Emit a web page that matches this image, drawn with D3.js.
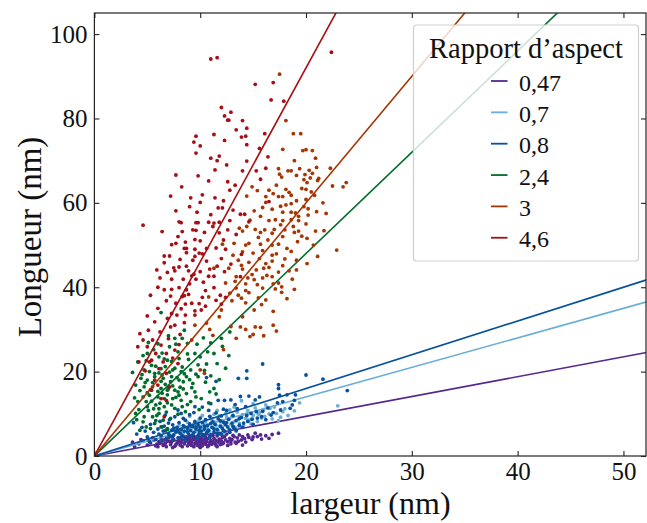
<!DOCTYPE html>
<html><head><meta charset="utf-8">
<script src="https://cdn.jsdelivr.net/npm/d3@7"></script>
<style>
html,body{margin:0;padding:0;background:#fff;}
svg text{font-family:"Liberation Serif","DejaVu Serif",serif;fill:#111;}
</style></head>
<body><svg id="c" width="647" height="523"></svg>
<script>
const categories = ["0,47","0,7","0,8","2,4","3","4,6"];
const slopes = [0.47,0.7,0.8,2.4,3,4.6];
const colors = ["#54278f","#6baed6","#08519c","#006d2c","#a63603","#a50f15"];
const xTicks = [0,10,20,30,40,50];
const yTicks = [0,20,40,60,80,100];
const xLabel = "largeur (nm)";
const yLabel = "Longueur (nm)";
const legendTitle = "Rapport d\u2019aspect";

const pts047 = [[3.6,3.3],[4.2,2.9],[4.6,3.6],[5.0,2.6],[5.3,3.1],[5.6,3.8],[5.9,2.8],[6.1,3.4],[6.3,4.1],[6.5,2.5],[6.7,3.0],[6.9,3.6],[7.0,4.4],[7.2,2.7],[7.3,3.3],[7.5,3.9],[7.6,2.3],[7.8,3.0],[7.9,3.6],[8.0,4.3],[8.1,2.6],[8.2,3.2],[8.3,3.8],[8.4,4.7],[8.5,2.9],[8.6,3.5],[8.7,4.1],[8.8,2.4],[8.9,3.1],[9.0,3.7],[9.0,4.5],[9.1,2.7],[9.2,3.3],[9.3,3.9],[9.4,2.2],[9.5,3.0],[9.5,4.2],[9.6,3.6],[9.7,2.6],[9.8,3.3],[9.8,4.8],[9.9,3.9],[10.0,2.9],[10.1,3.5],[10.1,4.3],[10.2,2.4],[10.3,3.1],[10.4,3.8],[10.4,5.0],[10.5,2.8],[10.6,3.4],[10.7,4.1],[10.8,2.5],[10.9,3.2],[10.9,4.6],[11.0,3.7],[11.1,2.8],[11.2,3.4],[11.3,4.2],[11.4,3.0],[11.5,3.7],[11.6,4.8],[11.7,3.3],[11.8,4.0],[11.9,2.7],[12.0,3.6],[12.1,4.4],[12.2,3.1],[12.4,3.8],[12.5,5.2],[12.6,3.4],[12.8,4.2],[12.9,2.9],[13.0,3.9],[13.2,4.6],[13.3,3.3],[13.4,3.0],[13.5,4.3],[13.7,5.0],[13.9,3.8],[14.0,4.6],[14.0,2.6],[14.2,4.1],[14.5,5.0],[14.6,4.4],[14.9,3.9],[15.2,5.4],[15.4,4.6],[15.7,5.0],[16.2,4.8],[16.5,4.2],[17.4,5.4],[3.8,2.2],[4.4,3.9],[5.5,4.3],[6.0,2.2],[5.1,3.9],[5.8,2.4],[6.2,3.0],[6.6,3.8],[6.8,2.2],[7.1,3.5],[7.4,4.6],[7.7,2.7],[8.0,3.4],[8.3,2.2],[8.6,4.4],[8.9,3.8],[9.2,2.5],[9.4,4.7],[9.7,3.2],[9.9,2.3],[10.2,3.9],[10.5,4.4],[10.7,2.2],[11.0,3.0],[11.2,4.9],[11.5,2.5],[11.8,3.5],[12.1,2.9],[12.3,4.6],[12.6,2.5],[12.9,3.6],[13.1,4.9],[13.6,3.5],[14.3,3.3],[15.0,4.5],[15.8,4.0],[16.8,5.1],[7.4,2.0],[10.0,2.0],[11.6,2.2]];

const pts07 = [[7.5,6.0],[8.0,7.2],[8.4,5.4],[8.8,8.0],[9.1,6.5],[9.4,7.6],[9.6,5.8],[9.9,8.6],[10.1,7.0],[10.3,6.1],[10.5,8.2],[10.7,7.4],[10.9,5.6],[11.0,9.2],[11.2,6.8],[11.4,8.0],[11.5,7.2],[11.7,6.0],[11.8,9.5],[12.0,8.4],[12.1,6.9],[12.3,7.7],[12.4,10.1],[12.6,8.8],[12.7,6.4],[12.9,7.5],[13.0,9.4],[13.2,8.1],[13.3,6.8],[13.5,10.4],[13.6,8.6],[13.7,7.7],[13.9,13.1],[14.0,9.8],[14.1,7.2],[14.3,8.9],[14.5,10.8],[14.6,8.5],[14.8,7.6],[15.0,9.6],[15.2,11.4],[15.4,8.2],[15.6,10.2],[15.8,9.0],[16.0,11.0],[16.2,12.1],[16.5,10.0],[16.8,8.8],[17.0,11.6],[17.4,8.4],[17.8,10.5],[18.3,9.6],[18.9,10.7],[19.4,12.6],[23.0,11.9],[11.6,10.8],[12.2,5.4],[13.4,5.8],[10.2,9.6],[9.0,9.4],[13.7,7.0],[14.6,8.5],[9.8,7.9],[10.6,6.6],[11.1,8.6],[11.9,7.3],[12.5,9.3],[13.1,7.1],[13.8,9.2],[14.4,10.0],[14.9,8.9],[15.5,9.9],[16.1,9.4],[16.6,11.3],[17.2,10.1],[18.0,11.2],[12.8,10.9],[11.3,9.9],[10.4,7.6],[15.0,12.4],[13.2,11.6],[17.6,9.2]];

const pts08 = [[4.0,5.2],[4.5,6.8],[5.0,4.5],[5.3,7.5],[5.6,5.6],[5.8,3.9],[6.0,6.4],[6.2,8.2],[6.3,4.8],[6.5,5.9],[6.6,7.1],[6.8,4.2],[6.9,6.5],[7.0,5.3],[7.1,8.6],[7.2,4.6],[7.3,6.1],[7.4,7.4],[7.5,5.0],[7.6,9.3],[7.7,5.7],[7.8,6.8],[7.9,4.3],[8.0,7.9],[8.1,5.4],[8.2,6.3],[8.3,4.8],[8.4,7.2],[8.5,5.9],[8.6,8.5],[8.7,4.5],[8.8,6.6],[8.9,5.2],[9.0,7.6],[9.0,9.8],[9.1,6.0],[9.2,4.9],[9.3,7.0],[9.4,5.6],[9.5,8.2],[9.6,6.4],[9.7,4.6],[9.8,7.4],[9.9,5.3],[10.0,6.8],[10.0,9.0],[10.1,5.9],[10.2,7.9],[10.3,4.8],[10.4,6.4],[10.5,8.6],[10.6,5.5],[10.7,7.2],[10.8,6.1],[10.9,9.4],[11.0,5.0],[11.1,6.8],[11.2,8.1],[11.3,5.7],[11.4,7.5],[11.5,10.2],[11.6,6.3],[11.7,8.8],[11.8,5.3],[11.9,7.0],[12.0,9.5],[12.1,6.5],[12.2,8.0],[12.3,5.9],[12.4,7.4],[12.5,10.8],[12.6,6.9],[12.7,8.7],[12.8,6.2],[12.9,13.3],[13.0,7.8],[13.1,9.6],[13.2,6.6],[13.4,8.4],[13.5,11.2],[13.6,18.4],[13.7,7.3],[13.8,14.1],[13.9,9.1],[14.0,6.8],[14.3,11.7],[14.4,20.2],[14.4,18.4],[14.5,8.2],[14.6,14.2],[14.8,10.1],[15.0,7.5],[15.2,13.3],[15.4,9.0],[15.6,14.0],[15.9,10.6],[15.9,21.8],[16.2,8.6],[16.7,9.7],[17.3,12.6],[17.4,16.9],[17.4,16.0],[17.6,10.9],[18.5,11.3],[18.7,12.1],[19.0,14.5],[20.0,19.2],[21.6,18.2],[23.9,15.5],[17.5,14.4],[18.2,14.5],[10.6,18.6],[11.5,17.7],[11.7,13.2],[12.3,13.2],[9.5,11.7],[7.9,10.9],[6.4,3.6],[7.4,3.9],[8.6,3.8],[9.8,4.2],[10.9,4.4],[12.0,5.1],[5.2,3.4],[3.7,7.9],[4.8,5.9],[6.7,9.7],[8.2,10.1],[10.2,11.6],[11.0,12.4],[13.3,12.2],[6.1,5.2],[6.7,6.0],[7.1,4.9],[7.5,6.6],[7.9,5.9],[8.2,4.5],[8.5,6.9],[8.8,5.7],[9.1,7.1],[9.3,5.0],[9.6,6.9],[9.9,6.1],[10.2,5.1],[10.4,7.1],[10.7,5.8],[11.0,7.7],[11.3,6.4],[11.6,5.4],[11.9,8.3],[12.2,6.0],[12.5,7.9],[12.8,5.6],[13.1,7.0],[13.4,6.1],[13.7,8.9],[14.1,7.8],[14.4,9.6],[14.9,8.7],[15.3,10.5],[15.8,9.3],[16.4,11.4],[16.9,10.3],[17.8,12.9],[18.9,13.2],[8.4,8.9],[9.4,10.3],[10.8,10.8],[12.2,11.1],[7.0,7.8],[6.4,6.9]];

const pts24 = [[12.8,29.4],[12.0,27.9],[12.1,26.0],[11.3,24.3],[10.7,24.7],[10.0,23.5],[9.5,24.3],[8.8,26.7],[8.3,27.9],[7.6,27.9],[7.1,25.9],[7.9,24.7],[6.9,22.7],[6.1,23.5],[5.0,24.3],[5.4,21.5],[4.1,22.3],[4.7,20.4],[6.3,20.7],[7.4,20.4],[8.3,21.1],[9.1,20.4],[9.8,18.8],[8.7,18.8],[8.0,18.0],[7.2,17.6],[6.5,18.4],[5.7,18.8],[5.0,18.0],[4.4,18.4],[3.9,16.8],[4.7,16.4],[5.5,16.4],[6.3,16.0],[6.9,15.6],[7.9,15.2],[8.7,14.8],[9.5,15.2],[10.1,13.6],[10.9,15.2],[11.3,16.0],[9.1,12.9],[8.2,13.2],[7.4,13.6],[6.6,13.6],[6.0,14.0],[5.2,14.4],[4.6,14.0],[4.1,12.9],[5.0,11.7],[5.8,12.1],[6.6,11.7],[7.6,11.3],[8.3,11.7],[6.1,10.1],[5.5,9.3],[4.7,9.3],[3.9,10.1],[5.7,7.7],[6.5,8.5],[7.2,8.9],[4.9,6.9],[4.3,6.1],[6.3,6.9],[12.7,23.8],[6.3,34.0],[5.2,20.0],[5.8,21.3],[6.4,19.2],[6.7,17.0],[7.1,19.9],[7.4,16.6],[7.8,18.6],[8.1,16.3],[8.5,19.5],[6.0,15.3],[5.4,13.0],[6.2,12.5],[6.9,14.5],[7.7,13.9],[8.4,15.9],[9.3,17.2],[9.8,21.6],[10.4,20.3],[11.0,19.0],[11.6,21.9],[4.8,17.4],[4.3,15.5],[5.1,10.8],[5.9,9.6],[6.8,10.4],[7.3,12.1],[8.8,12.2],[9.6,14.0],[10.5,17.5],[12.4,20.8],[4.9,22.6],[5.6,25.2],[6.6,23.0],[7.3,22.4],[8.0,23.1],[8.9,22.9],[6.0,26.6],[7.0,28.5],[8.5,29.8],[9.7,26.5],[10.3,28.0],[11.0,26.8],[3.8,13.8],[4.2,11.0],[4.6,8.1],[5.3,6.5],[6.1,11.2],[7.9,9.9],[8.6,10.5],[9.9,11.0],[10.8,12.6],[11.5,14.7],[5.7,19.6],[6.3,17.7],[7.6,20.8],[8.2,20.0],[9.0,18.1],[5.0,15.0],[6.4,14.9],[7.0,16.0],[5.5,17.4],[6.1,19.7],[6.7,21.2],[7.3,18.8],[7.6,15.6],[8.4,17.6],[5.3,15.7],[4.5,19.3],[6.9,12.6],[5.6,11.2],[4.9,12.9],[8.0,14.4],[9.2,16.2],[9.6,19.4],[6.4,24.4],[7.7,26.5],[5.1,26.9],[4.6,23.8],[3.6,19.8],[4.0,8.6],[5.8,8.4],[6.9,6.3],[10.6,21.8],[11.8,18.1],[8.8,24.2]];

const pts3 = [[17.5,90.5],[18.1,79.5],[18.8,76.4],[19.5,76.4],[17.8,72.7],[19.7,72.4],[20.0,72.6],[20.6,72.4],[17.4,68.1],[18.3,67.6],[18.6,67.6],[19.4,68.1],[20.3,67.7],[21.0,68.4],[22.3,68.2],[17.5,66.8],[17.7,66.1],[19.1,66.5],[19.9,66.7],[20.4,65.9],[19.8,65.5],[20.6,67.0],[21.2,65.8],[23.5,63.8],[23.8,64.8],[14.9,63.8],[15.4,62.9],[16.5,63.0],[17.2,64.2],[18.1,63.2],[18.6,61.8],[19.6,63.4],[20.0,63.2],[20.1,64.8],[20.8,61.8],[21.1,65.3],[16.2,61.5],[17.4,61.5],[17.8,61.5],[14.4,61.6],[18.1,59.5],[18.6,59.8],[19.1,60.5],[20.0,60.8],[21.0,57.9],[20.2,58.6],[16.2,60.1],[16.8,58.5],[17.8,57.8],[18.6,57.8],[19.3,56.8],[20.2,57.1],[15.1,58.1],[15.7,56.8],[17.1,56.0],[17.8,55.8],[18.6,56.0],[19.3,55.8],[16.5,55.8],[13.7,54.0],[14.4,54.4],[15.2,53.7],[16.1,53.6],[17.0,53.7],[18.0,53.6],[18.8,54.4],[19.3,53.3],[20.0,55.0],[20.9,53.3],[21.7,53.4],[14.0,53.3],[15.7,53.0],[16.8,52.8],[17.8,52.0],[18.9,53.0],[19.6,52.1],[20.1,51.6],[13.2,50.4],[14.3,50.0],[14.6,50.4],[15.7,50.2],[16.8,50.0],[17.4,50.2],[18.2,49.2],[13.1,47.6],[14.0,48.4],[15.0,48.1],[15.9,48.7],[16.8,47.6],[17.2,47.9],[18.0,46.7],[19.1,46.4],[20.1,45.6],[21.1,47.3],[22.9,48.8],[13.6,46.4],[14.6,45.9],[16.2,45.6],[16.8,46.2],[12.7,44.5],[14.0,44.3],[15.3,44.1],[16.0,44.5],[16.5,44.7],[17.4,43.6],[18.4,43.9],[19.1,44.1],[13.4,42.5],[14.5,42.2],[15.1,41.8],[15.9,42.2],[16.8,42.5],[18.7,41.9],[13.3,41.4],[14.3,40.8],[15.4,40.6],[16.9,40.8],[17.4,41.0],[17.7,40.1],[13.4,39.8],[14.3,39.2],[15.9,39.8],[17.1,39.6],[12.8,38.6],[13.6,38.1],[14.6,38.7],[15.5,37.5],[17.7,38.8],[13.0,36.8],[14.3,36.3],[15.1,34.6],[16.9,34.3],[13.8,30.6],[14.3,30.0],[15.2,30.6],[15.7,30.5],[14.7,28.3],[15.0,28.8],[13.4,27.9],[16.9,31.0],[12.9,30.7],[11.3,44.5],[10.8,37.7],[12.1,50.2],[9.2,27.5],[10.6,31.5],[11.8,33.0],[12.2,25.2],[10.0,20.4],[10.4,19.6],[9.5,31.0],[10.9,30.0],[11.2,28.6],[14.7,55.9],[15.9,58.9],[16.9,62.2],[17.6,59.2],[18.4,62.5],[19.8,59.1],[19.0,57.6],[20.5,62.6],[21.6,60.0],[15.5,51.8],[16.4,51.2],[17.6,54.8],[19.2,50.8],[13.9,45.2],[15.6,46.8],[17.8,45.1],[18.6,48.5],[14.9,43.0],[16.3,42.8],[13.9,37.4],[16.2,37.0],[12.4,41.0],[12.0,34.6],[14.0,33.0],[15.8,35.9],[18.2,37.3],[16.0,28.5],[17.2,29.6],[18.9,39.5],[20.7,50.0],[21.9,57.5],[22.5,64.0],[20.9,70.6],[18.9,70.0]];

const pts46 = [[11.0,94.1],[11.6,94.4],[12.0,82.6],[12.3,80.6],[12.6,79.6],[9.6,75.8],[11.3,76.2],[9.4,74.4],[10.0,73.5],[12.3,74.8],[9.6,71.8],[11.0,70.6],[11.8,71.1],[11.6,70.0],[12.5,69.0],[11.4,67.8],[7.7,66.6],[9.8,66.4],[22.4,95.7],[15.2,88.1],[16.9,88.5],[16.7,84.4],[17.9,84.1],[12.9,81.5],[12.7,79.6],[14.0,79.5],[13.4,77.3],[14.4,77.7],[13.9,75.6],[14.3,75.8],[16.1,76.4],[14.4,73.8],[15.6,72.9],[16.4,70.9],[14.4,69.9],[14.0,67.6],[15.3,67.6],[16.2,68.2],[15.7,65.6],[12.8,63.0],[13.3,64.2],[13.1,58.3],[13.8,57.3],[14.2,57.3],[14.6,55.5],[13.9,47.8],[13.8,42.5],[16.5,60.3],[12.8,55.8],[8.25,63.8],[10.8,65.2],[12.6,65.0],[7.2,61.6],[9.1,61.2],[10.2,61.9],[11.4,61.2],[12.2,60.5],[10.0,60.1],[7.7,58.1],[9.7,57.8],[11.7,58.8],[12.1,58.8],[8.0,55.5],[8.2,55.3],[4.6,54.7],[6.4,53.2],[8.3,53.2],[9.6,55.3],[9.8,55.3],[10.8,55.4],[11.3,55.2],[11.8,55.4],[11.2,54.4],[9.3,53.6],[9.6,53.5],[11.8,52.9],[12.6,53.6],[9.5,51.3],[10.0,51.0],[7.7,50.4],[7.3,50.1],[12.2,51.2],[8.5,49.2],[8.7,49.2],[9.5,49.0],[10.6,49.2],[11.5,49.3],[12.4,49.0],[6.6,47.4],[7.1,47.4],[8.7,48.2],[9.5,47.3],[10.2,47.9],[12.0,46.8],[8.1,46.6],[9.3,46.4],[10.6,46.2],[7.5,44.6],[8.7,45.0],[11.6,45.0],[5.9,44.1],[6.9,43.5],[7.6,43.9],[8.9,43.9],[9.4,43.1],[10.0,43.7],[10.8,42.6],[11.3,42.6],[12.3,43.7],[7.3,41.9],[8.4,41.9],[9.2,42.7],[9.6,41.9],[6.0,40.0],[6.6,39.4],[7.3,39.5],[8.0,39.9],[8.7,39.4],[10.5,39.2],[11.3,39.9],[8.5,38.0],[8.9,38.3],[7.2,37.9],[8.3,37.8],[10.2,37.6],[11.9,38.1],[12.4,37.6],[7.7,36.2],[8.6,36.0],[9.2,36.2],[9.9,36.1],[10.5,35.5],[12.0,36.0],[8.2,34.9],[9.5,34.4],[10.1,34.6],[7.3,33.8],[7.8,33.4],[8.6,33.4],[9.5,33.4],[7.2,30.6],[7.6,31.0],[5.7,31.8],[4.3,29.0],[5.5,27.5],[5.0,25.9],[6.3,26.3],[6.8,24.3],[7.6,25.1],[5.8,24.3],[6.5,22.3],[5.4,22.7],[7.9,21.9],[6.1,20.7],[6.8,19.6],[5.7,18.0],[7.1,16.4],[5.4,15.6],[6.3,13.6],[6.8,13.2],[6.6,9.3],[4.1,25.9],[4.6,27.5],[4.2,22.3],[5.2,22.3],[6.2,29.4],[8.1,28.8],[6.9,32.6],[5.0,33.2],[6.0,35.0],[6.8,36.8],[5.3,38.1],[6.2,42.2],[8.0,44.8],[9.0,40.8],[10.9,44.3],[9.9,48.1],[7.9,52.0],[10.4,53.0],[11.0,57.2],[9.0,59.1],[8.6,50.7],[10.3,41.2],[11.5,36.9],[7.0,27.8],[8.5,31.6],[5.1,29.8],[4.8,20.2],[6.0,16.8],[7.4,23.2],[8.0,26.4],[6.6,45.8],[12.9,45.5],[13.4,52.5]];

const groups = [pts047, pts07, pts08, pts24, pts3, pts46];

const mLeft = 94.4, mRight = 646.5, mTop = 13, mBottom = 456;
const xMax = 52.18, yMax = 105;
const x = d3.scaleLinear().domain([0, xMax]).range([mLeft, mRight]);
const y = d3.scaleLinear().domain([0, yMax]).range([mBottom, mTop]);

const svg = d3.select("#c");
svg.append("defs").append("clipPath").attr("id","clip")
  .append("rect").attr("x",mLeft).attr("y",mTop).attr("width",mRight-mLeft).attr("height",mBottom-mTop);

const plot = svg.append("g").attr("clip-path","url(#clip)");
groups.forEach((pts, i) => {
  plot.append("g").selectAll("circle").data(pts).join("circle")
    .attr("cx", d => x(d[0])).attr("cy", d => y(d[1])).attr("r", 1.9)
    .attr("fill", colors[i]);
  const line = d3.line().x(d => x(d)).y(d => y(d * slopes[i]));
  plot.append("path").datum([0, xMax]).attr("d", line)
    .attr("fill","none").attr("stroke", colors[i]).attr("stroke-width", 1.6);
});

// axes
const fs = 25;
const gx = svg.append("g").attr("transform",`translate(0,${mBottom})`)
  .call(d3.axisBottom(x).tickValues(xTicks).tickSizeInner(-5).tickSizeOuter(0).tickPadding(6));
const gy = svg.append("g").attr("transform",`translate(${mLeft},0)`)
  .call(d3.axisLeft(y).tickValues(yTicks).tickSizeInner(-5).tickSizeOuter(0).tickPadding(7));
const gt = svg.append("g").attr("transform",`translate(0,${mTop})`)
  .call(d3.axisTop(x).tickValues(xTicks).tickSizeInner(-5).tickSizeOuter(0).tickFormat(""));
const gr = svg.append("g").attr("transform",`translate(${mRight-0.5},0)`)
  .call(d3.axisRight(y).tickValues(yTicks).tickSizeInner(-5).tickSizeOuter(0).tickFormat(""));
[gx,gy,gt,gr].forEach(g => {
  g.select(".domain").remove();
  g.selectAll(".tick line").attr("stroke","#222").attr("stroke-width",1.1);
  g.selectAll(".tick text").attr("font-size",fs).attr("fill","#111")
    .style("font-family","'Liberation Serif',serif");
});
svg.append("rect").attr("x",mLeft).attr("y",mTop).attr("width",mRight-mLeft-0.5).attr("height",mBottom-mTop)
  .attr("fill","none").attr("stroke","#222").attr("stroke-width",1.2);

// axis labels
svg.append("text").attr("x",(mLeft+mRight)/2).attr("y",514).attr("text-anchor","middle")
  .attr("font-size",32).text(xLabel);
svg.append("text").attr("transform","translate(41,237) rotate(-90)").attr("text-anchor","middle")
  .attr("font-size",33).text(yLabel);

// legend
const lg = svg.append("g");
lg.append("rect").attr("x",413.5).attr("y",25).attr("width",225).attr("height",236).attr("rx",3)
  .attr("fill","#fff").attr("fill-opacity",0.8).attr("stroke","#d0d0d0").attr("stroke-width",1.2);
lg.append("text").attr("x",526).attr("y",58).attr("text-anchor","middle").attr("font-size",28.5).text(legendTitle);
categories.forEach((c,i) => {
  const yy = 81 + i*31.35;
  lg.append("line").attr("x1",491).attr("x2",507.5).attr("y1",yy).attr("y2",yy)
    .attr("stroke",colors[i]).attr("stroke-width",1.8);
  lg.append("text").attr("x",519).attr("y",yy+9.5).attr("font-size",24).text(c);
});
</script></body></html>
